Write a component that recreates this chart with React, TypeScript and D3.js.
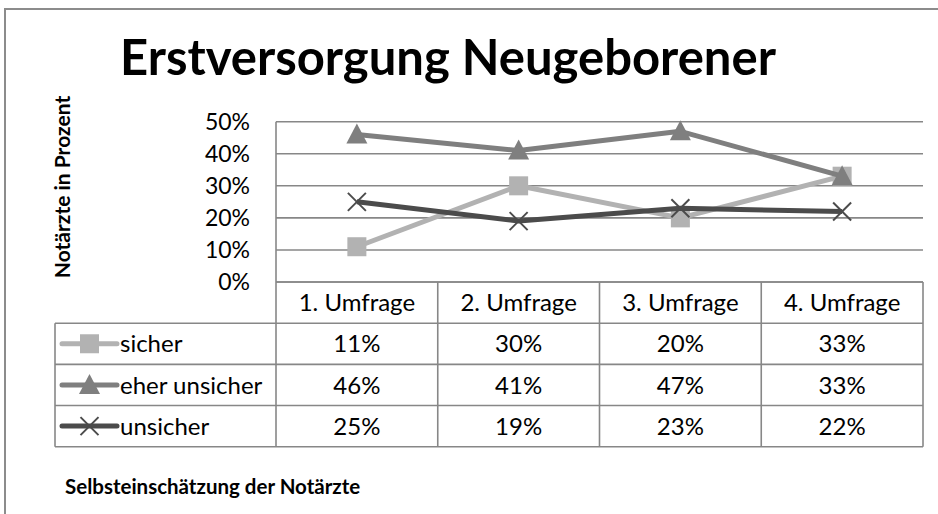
import React from "react";
import * as d3 from "d3";

const categories = ["1. Umfrage", "2. Umfrage", "3. Umfrage", "4. Umfrage"];
const seriesNames = ["sicher", "eher unsicher", "unsicher"];
const sicher = [11, 30, 20, 33];
const eherUnsicher = [46, 41, 47, 33];
const unsicher = [25, 19, 23, 22];
const yTicks = [0, 10, 20, 30, 40, 50];
const title = "Erstversorgung Neugeborener";
const yTitle = "Notärzte in Prozent";
const footer = "Selbsteinschätzung der Notärzte";

const FONT = "Lato, 'Open Sans', sans-serif";
const W = 938;
const H = 514;

const seriesValues = [sicher, eherUnsicher, unsicher];
const seriesColors = ["#b2b2b2", "#7f7f7f", "#4b4b4b"];
const seriesMarkers = ["square", "triangle", "x"];

const plotL = 276;
const plotR = 923;
const plotT = 121.7;
const plotB = 282;
const tableL = 55;
const gridColor = "#878787";

function Marker({ type, x, y, color }: { type: string; x: number; y: number; color: string }) {
  if (type === "square") {
    return <rect x={x - 9.5} y={y - 9.5} width={19} height={19} fill={color} />;
  }
  if (type === "triangle") {
    const p = d3.path();
    p.moveTo(x, y - 11);
    p.lineTo(x + 10.5, y + 9);
    p.lineTo(x - 10.5, y + 9);
    p.closePath();
    return <path d={p.toString()} fill={color} />;
  }
  const s = 9;
  return (
    <g stroke={color} strokeWidth={2}>
      <line x1={x - s} y1={y - s} x2={x + s} y2={y + s} />
      <line x1={x - s} y1={y + s} x2={x + s} y2={y - s} />
    </g>
  );
}

export default function App() {
  const x = d3.scaleBand<string>().domain(categories).range([plotL, plotR]);
  const y = d3.scaleLinear().domain([0, 50]).range([plotB, plotT]);
  const rows = d3
    .scaleBand<string>()
    .domain(["header", ...seriesNames])
    .range([plotB, 446.7]);

  const line = d3
    .line<number>()
    .x((_, i) => (x(categories[i]) as number) + x.bandwidth() / 2)
    .y((d) => y(d));

  const colEdges = [plotL, ...categories.map((c) => (x(c) as number) + x.bandwidth())];
  const tableB = (rows(seriesNames[2]) as number) + rows.bandwidth();

  return (
    <svg
      width={W}
      height={H}
      style={{ position: "absolute", left: 0, top: 0, background: "#fff" }}
      fontFamily={FONT}
    >
      <rect x={0} y={0} width={W} height={H} fill="#fff" />
      <path d={`M5,${H + 2} V9 H${W + 2}`} fill="none" stroke="#8c8c8c" strokeWidth={2} />

      <text x={448} y={75} textAnchor="middle" fontWeight="bold" fontSize={49} fill="#000">
        {title}
      </text>

      <text
        transform={`translate(70,187) rotate(-90)`}
        textAnchor="middle"
        fontWeight="bold"
        fontSize={21}
        fill="#000"
      >
        {yTitle}
      </text>

      {yTicks.map((t) => (
        <g key={t}>
          <line x1={plotL} x2={plotR} y1={y(t)} y2={y(t)} stroke={gridColor} strokeWidth={1.6} />
          <text x={250} y={y(t)} dy="0.35em" textAnchor="end" fontSize={23} fill="#000">
            {t}%
          </text>
        </g>
      ))}

      {/* table grid */}
      <g stroke={gridColor} strokeWidth={1.6} fill="none">
        {rows.domain().map((r) => {
          const top = rows(r) as number;
          return (
            <line
              key={"h" + r}
              x1={r === "header" ? plotL : tableL}
              x2={plotR}
              y1={top}
              y2={top}
            />
          );
        })}
        <line x1={tableL} x2={plotR} y1={tableB} y2={tableB} />
        <line x1={tableL} x2={tableL} y1={rows(seriesNames[0]) as number} y2={tableB} />
        {colEdges.map((cx, i) => (
          <line key={"v" + i} x1={cx} x2={cx} y1={i === 0 ? plotT : plotB} y2={tableB} />
        ))}
      </g>

      {categories.map((c) => (
        <text
          key={c}
          x={(x(c) as number) + x.bandwidth() / 2}
          y={(rows("header") as number) + rows.bandwidth() / 2}
          dy="0.36em"
          textAnchor="middle"
          fontSize={24}
          fill="#000"
        >
          {c}
        </text>
      ))}

      {seriesNames.map((name, si) => {
        const cy = (rows(name) as number) + rows.bandwidth() / 2;
        return (
          <g key={name}>
            <line x1={62} x2={117} y1={cy} y2={cy} stroke={seriesColors[si]} strokeWidth={5} strokeLinecap="round" />
            <Marker type={seriesMarkers[si]} x={89.5} y={cy} color={seriesColors[si]} />
            <text x={120} y={cy} dy="0.36em" fontSize={24} fill="#000">
              {name}
            </text>
            {seriesValues[si].map((v, i) => (
              <text
                key={i}
                x={(x(categories[i]) as number) + x.bandwidth() / 2}
                y={cy}
                dy="0.36em"
                textAnchor="middle"
                fontSize={24}
                fill="#000"
              >
                {v}%
              </text>
            ))}
          </g>
        );
      })}

      {seriesNames.map((name, si) => (
        <g key={"s" + name}>
          <path
            d={line(seriesValues[si]) as string}
            fill="none"
            stroke={seriesColors[si]}
            strokeWidth={5}
            strokeLinejoin="round"
          />
          {seriesValues[si].map((v, i) => (
            <Marker
              key={i}
              type={seriesMarkers[si]}
              x={(x(categories[i]) as number) + x.bandwidth() / 2}
              y={y(v)}
              color={seriesColors[si]}
            />
          ))}
        </g>
      ))}

      <text x={65} y={494} fontWeight="bold" fontSize={20.5} fill="#000">
        {footer}
      </text>
    </svg>
  );
}
